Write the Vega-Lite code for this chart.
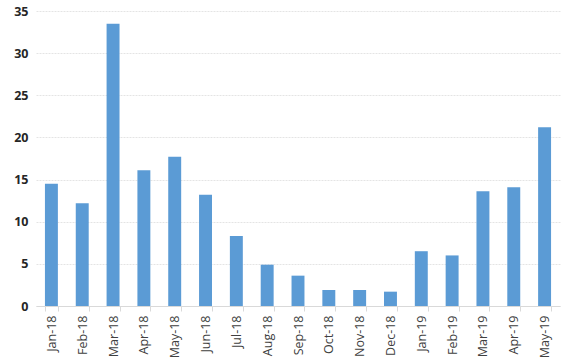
{
  "$schema": "https://vega.github.io/schema/vega-lite/v6.json",
  "width": 524,
  "height": 295,
  "autosize": {"type": "none"},
  "padding": {"left": 36, "top": 11, "right": 16, "bottom": 55},
  "background": "white",
  "data": {"values": [
    {"month": "Jan-18", "value": 14.5},
    {"month": "Feb-18", "value": 12.2},
    {"month": "Mar-18", "value": 33.5},
    {"month": "Apr-18", "value": 16.1},
    {"month": "May-18", "value": 17.7},
    {"month": "Jun-18", "value": 13.2},
    {"month": "Jul-18", "value": 8.3},
    {"month": "Aug-18", "value": 4.9},
    {"month": "Sep-18", "value": 3.6},
    {"month": "Oct-18", "value": 1.9},
    {"month": "Nov-18", "value": 1.9},
    {"month": "Dec-18", "value": 1.7},
    {"month": "Jan-19", "value": 6.5},
    {"month": "Feb-19", "value": 6.0},
    {"month": "Mar-19", "value": 13.6},
    {"month": "Apr-19", "value": 14.1},
    {"month": "May-19", "value": 21.2}
  ]},
  "config": {"view": {"stroke": null}},
  "mark": {"type": "bar", "color": "#5b9bd5"},
  "encoding": {
    "x": {
      "field": "month", "type": "nominal", "sort": null,
      "scale": {"paddingInner": 0.58, "paddingOuter": 0.29},
      "axis": {
        "title": null, "labelAngle": -90, "labelAlign": "right", "labelBaseline": "middle",
        "labelFont": "Open Sans", "labelFontSize": 12.5, "labelColor": "#404040", "labelPadding": 4,
        "domainColor": "#d9d9d9", "tickColor": "#d9d9d9", "tickBand": "extent", "tickSize": 5,
        "grid": false
      }
    },
    "y": {
      "field": "value", "type": "quantitative",
      "scale": {"domain": [0, 35]},
      "axis": {
        "title": null, "values": [0, 5, 10, 15, 20, 25, 30, 35],
        "domain": false, "ticks": false,
        "labelFont": "Open Sans", "labelFontSize": 12.5, "labelFontWeight": "bold", "labelColor": "#262626",
        "labelPadding": 8,
        "gridColor": "#e4e4e4", "gridDash": [2, 1]
      }
    }
  }
}
